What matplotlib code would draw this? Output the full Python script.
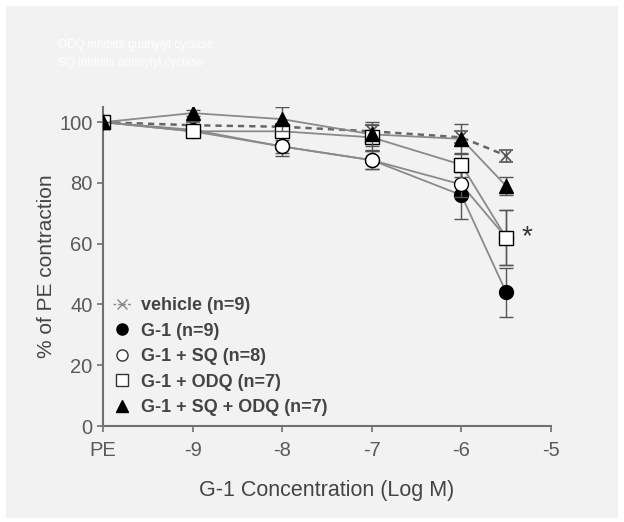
import matplotlib
matplotlib.use("Agg")
import matplotlib.pyplot as plt
from matplotlib.patches import Rectangle
from matplotlib.lines import Line2D

plt.rcParams['font.family'] = ['Liberation Sans', 'DejaVu Sans']

x = [-10, -9, -8, -7, -6, -5.5]
tick_pos = [-10, -9, -8, -7, -6, -5]
tick_labels = ['PE', '-9', '-8', '-7', '-6', '-5']

vehicle = [100, 99, 98.5, 97, 95, 89]
vehicle_err = [0, 1, 1, 2, 2, 2]
g1 = [100, 97, 92, 87.5, 76, 44]
g1_err = [0, 1, 2, 3, 8, 8]
g1_sq = [100, 97.5, 92, 87.5, 79.5, 62]
g1_sq_err = [0, 1, 3, 3, 4, 9]
g1_odq = [100, 97, 97, 95, 86, 62]
g1_odq_err = [0, 1, 2, 4, 4, 9]
g1_sq_odq = [100, 103, 101, 96, 94.5, 79]
g1_sq_odq_err = [0, 1, 4, 4, 5, 3]

labels = ['vehicle (n=9)', 'G-1 (n=9)', 'G-1 + SQ (n=8)', 'G-1 + ODQ (n=7)', 'G-1 + SQ + ODQ (n=7)']

fig = plt.figure(figsize=(6.24, 5.22), dpi=100, facecolor='white')
fig.patches.append(Rectangle((6/624, 4/522), 612/624, 512/522, transform=fig.transFigure,
                             facecolor='#f2f2f2', edgecolor='none', zorder=-10))
ax = fig.add_axes([103/624, 1 - 426/522, 448/624, (426 - 107) / 522])
ax.set_facecolor('#f2f2f2')

line_c = '#8a8a8a'
err_c = '#555555'
ms = 10

series = [
    (g1, g1_err, 'o', 'black', 'black'),
    (g1_sq, g1_sq_err, 'o', 'white', 'black'),
    (g1_odq, g1_odq_err, 's', 'white', 'black'),
    (g1_sq_odq, g1_sq_odq_err, '^', 'black', 'black'),
]
ax.errorbar(x, vehicle, yerr=vehicle_err, fmt='x', color='#555555', ms=7, mew=1.2,
            ecolor=err_c, elinewidth=1, capsize=5, ls='none', zorder=3)
ax.plot(x, vehicle, ls=(0, (2.5, 2)), color='#666666', lw=1.8, zorder=2)
for i, (vals, err, mk, fc, ec) in enumerate(series):
    ax.errorbar(x, vals, yerr=err, fmt='none', ecolor=err_c, elinewidth=1, capsize=5, zorder=3 + i)
    ax.plot(x, vals, color=line_c, lw=1.3, zorder=2)
    ax.plot(x, vals, ls='none', marker=mk, mfc=fc, mec=ec, ms=ms, mew=1.0, zorder=4 + i)

ax.text(-5.33, 62, '*', fontsize=20, ha='left', va='center', color='#333333')

ax.set_xlim(-10, -5)
ax.set_ylim(0, 105)
ax.set_xticks(tick_pos)
ax.set_xticklabels(tick_labels)
ax.set_yticks([0, 20, 40, 60, 80, 100])
for s in ['top', 'right']:
    ax.spines[s].set_visible(False)
for s in ['left', 'bottom']:
    ax.spines[s].set_color('#707070')
    ax.spines[s].set_linewidth(1.5)
ax.tick_params(colors='#707070', labelcolor='#5a5a5a', labelsize=14.5, length=4, width=1.2)
ax.tick_params(axis='x', pad=7)
ax.set_ylabel('% of PE contraction', fontsize=15, color='#444444', labelpad=2)
ax.set_xlabel('G-1 Concentration (Log M)', fontsize=15.5, color='#444444', labelpad=14)

handles = [
    Line2D([], [], ls=(0, (2, 1.5)), marker='x', color='#888888', ms=7, lw=1),
    Line2D([], [], ls='none', marker='o', mfc='black', mec='black', ms=8),
    Line2D([], [], ls='none', marker='o', mfc='white', mec='#333333', ms=8),
    Line2D([], [], ls='none', marker='s', mfc='white', mec='#333333', ms=8),
    Line2D([], [], ls='none', marker='^', mfc='black', mec='black', ms=8),
]
leg = ax.legend(handles, labels, loc='lower left', bbox_to_anchor=(-0.013, -0.02), frameon=False,
                handlelength=1.0, handletextpad=0.5, labelspacing=0.47,
                prop={'size': 13, 'weight': 'bold'})
for t in leg.get_texts():
    t.set_color('#444444')

fig.text(58/624, 1 - 45/522, 'ODQ inhibits guanylyl cyclase', color='white', fontsize=8.5, va='center')
fig.text(58/624, 1 - 63/522, 'SQ inhibits adenylyl cyclase', color='white', fontsize=8.5, va='center')

fig.savefig('out.png', dpi=100, facecolor=fig.get_facecolor())
